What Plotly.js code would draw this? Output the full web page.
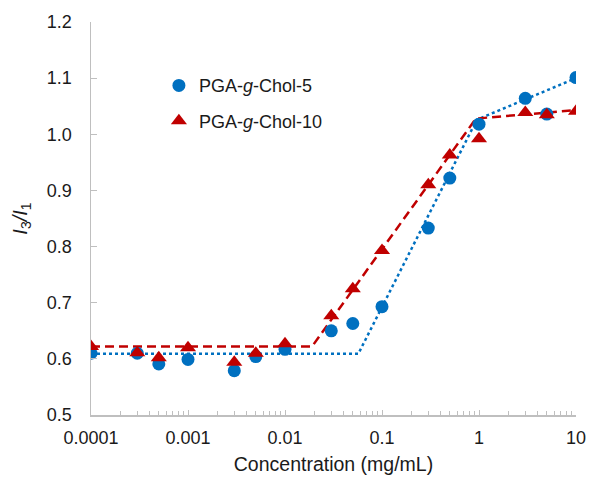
<!DOCTYPE html>
<html>
<head>
<meta charset="utf-8">
<script src="https://cdn.plot.ly/plotly-3.0.1.min.js"></script>
<style>html,body{margin:0;padding:0;background:#fff;}#chart{width:590px;height:478px;}</style>
</head>
<body>
<div id="chart"></div>
<script>
const conc = [0.0001, 0.0003, 0.0005, 0.001, 0.003, 0.005, 0.01, 0.03, 0.05, 0.1, 0.3, 0.5, 1, 3, 5, 10];
const chol5 = [0.610, 0.610, 0.591, 0.599, 0.579, 0.604, 0.617, 0.650, 0.663, 0.693, 0.833, 0.922, 1.018, 1.064, 1.036, 1.101];
const chol10 = [0.622, 0.611, 0.602, 0.620, 0.594, 0.610, 0.627, 0.677, 0.725, 0.793, 0.910, 0.963, 0.992, 1.039, 1.035, 1.041];
const fit5X = [0.0001, 0.057, 0.95, 10];
const fit5Y = [0.609, 0.609, 1.026, 1.100];
const fit10X = [0.0001, 0.019, 0.93, 10];
const fit10Y = [0.622, 0.622, 1.028, 1.043];
const xTickVals = [0.0001, 0.001, 0.01, 0.1, 1, 10];
const xTickText = ['0.0001', '0.001', '0.01', '0.1', '1', '10'];
const yTickVals = [0.5, 0.6, 0.7, 0.8, 0.9, 1.0, 1.1, 1.2];
const yTickText = ['0.5', '0.6', '0.7', '0.8', '0.9', '1.0', '1.1', '1.2'];

const minorVals = [];
for (let e = -4; e < 1; e++) for (let m = 2; m <= 9; m++) minorVals.push(m * Math.pow(10, e));

const blue = '#0070C0', red = '#C00000', axisCol = '#BFBFBF', txt = '#1a1a1a';
const font = 'Liberation Sans, Arial, sans-serif';

const traces = [
  {x: fit5X, y: fit5Y, mode: 'lines', line: {color: blue, width: 2.5, dash: 'dot'}, showlegend: false, hoverinfo: 'skip'},
  {x: fit10X, y: fit10Y, mode: 'lines', line: {color: red, width: 2.5, dash: '9px,5px'}, showlegend: false, hoverinfo: 'skip'},
  {x: conc, y: chol5, mode: 'markers', name: 'PGA-<i>g</i>-Chol-5', legendgroup: 'a',
   marker: {symbol: 'circle', size: 13, color: blue}},
  {x: conc, y: chol10, mode: 'markers', name: 'PGA-<i>g</i>-Chol-10', legendgroup: 'b',
   marker: {symbol: 'triangle-up', size: 14, color: red}}
];

const layout = {
  width: 590, height: 478,
  margin: {l: 91, r: 14, t: 22, b: 63},
  paper_bgcolor: '#fff', plot_bgcolor: '#fff',
  font: {family: font, size: 18, color: txt},
  showlegend: true,
  legend: {x: 0.14, y: 0.885, xanchor: 'left', yanchor: 'top', bgcolor: 'rgba(0,0,0,0)',
           font: {family: font, size: 18, color: txt}, tracegroupgap: 9, itemwidth: 30},
  xaxis: {
    type: 'log', range: [-4, 1], showgrid: false, zeroline: false,
    showline: true, linecolor: axisCol, linewidth: 1.5, mirror: false,
    tickvals: xTickVals, ticktext: xTickText,
    ticks: 'inside', ticklen: 5, tickcolor: axisCol, tickwidth: 1,
    ticklabelstandoff: 6,
    tickfont: {family: font, size: 18, color: txt},
    minor: {tickvals: minorVals, ticks: 'inside', ticklen: 4, tickcolor: axisCol, tickwidth: 1, showgrid: false},
    title: {text: 'Concentration (mg/mL)', font: {family: font, size: 19.5, color: txt}, standoff: 10}
  },
  yaxis: {
    range: [0.5, 1.2], showgrid: false, zeroline: false,
    showline: true, linecolor: axisCol, linewidth: 1.5,
    tickvals: yTickVals, ticktext: yTickText,
    ticks: 'inside', ticklen: 6, tickcolor: axisCol, tickwidth: 1,
    ticklabelstandoff: 14,
    tickfont: {family: font, size: 18, color: txt},
    title: {text: '<i>I</i><sub>3</sub><i>/I</i><sub>1</sub>', font: {family: font, size: 20, color: txt}, standoff: 14}
  }
};

Plotly.newPlot('chart', traces, layout, {displayModeBar: false, staticPlot: true});
</script>
</body>
</html>
